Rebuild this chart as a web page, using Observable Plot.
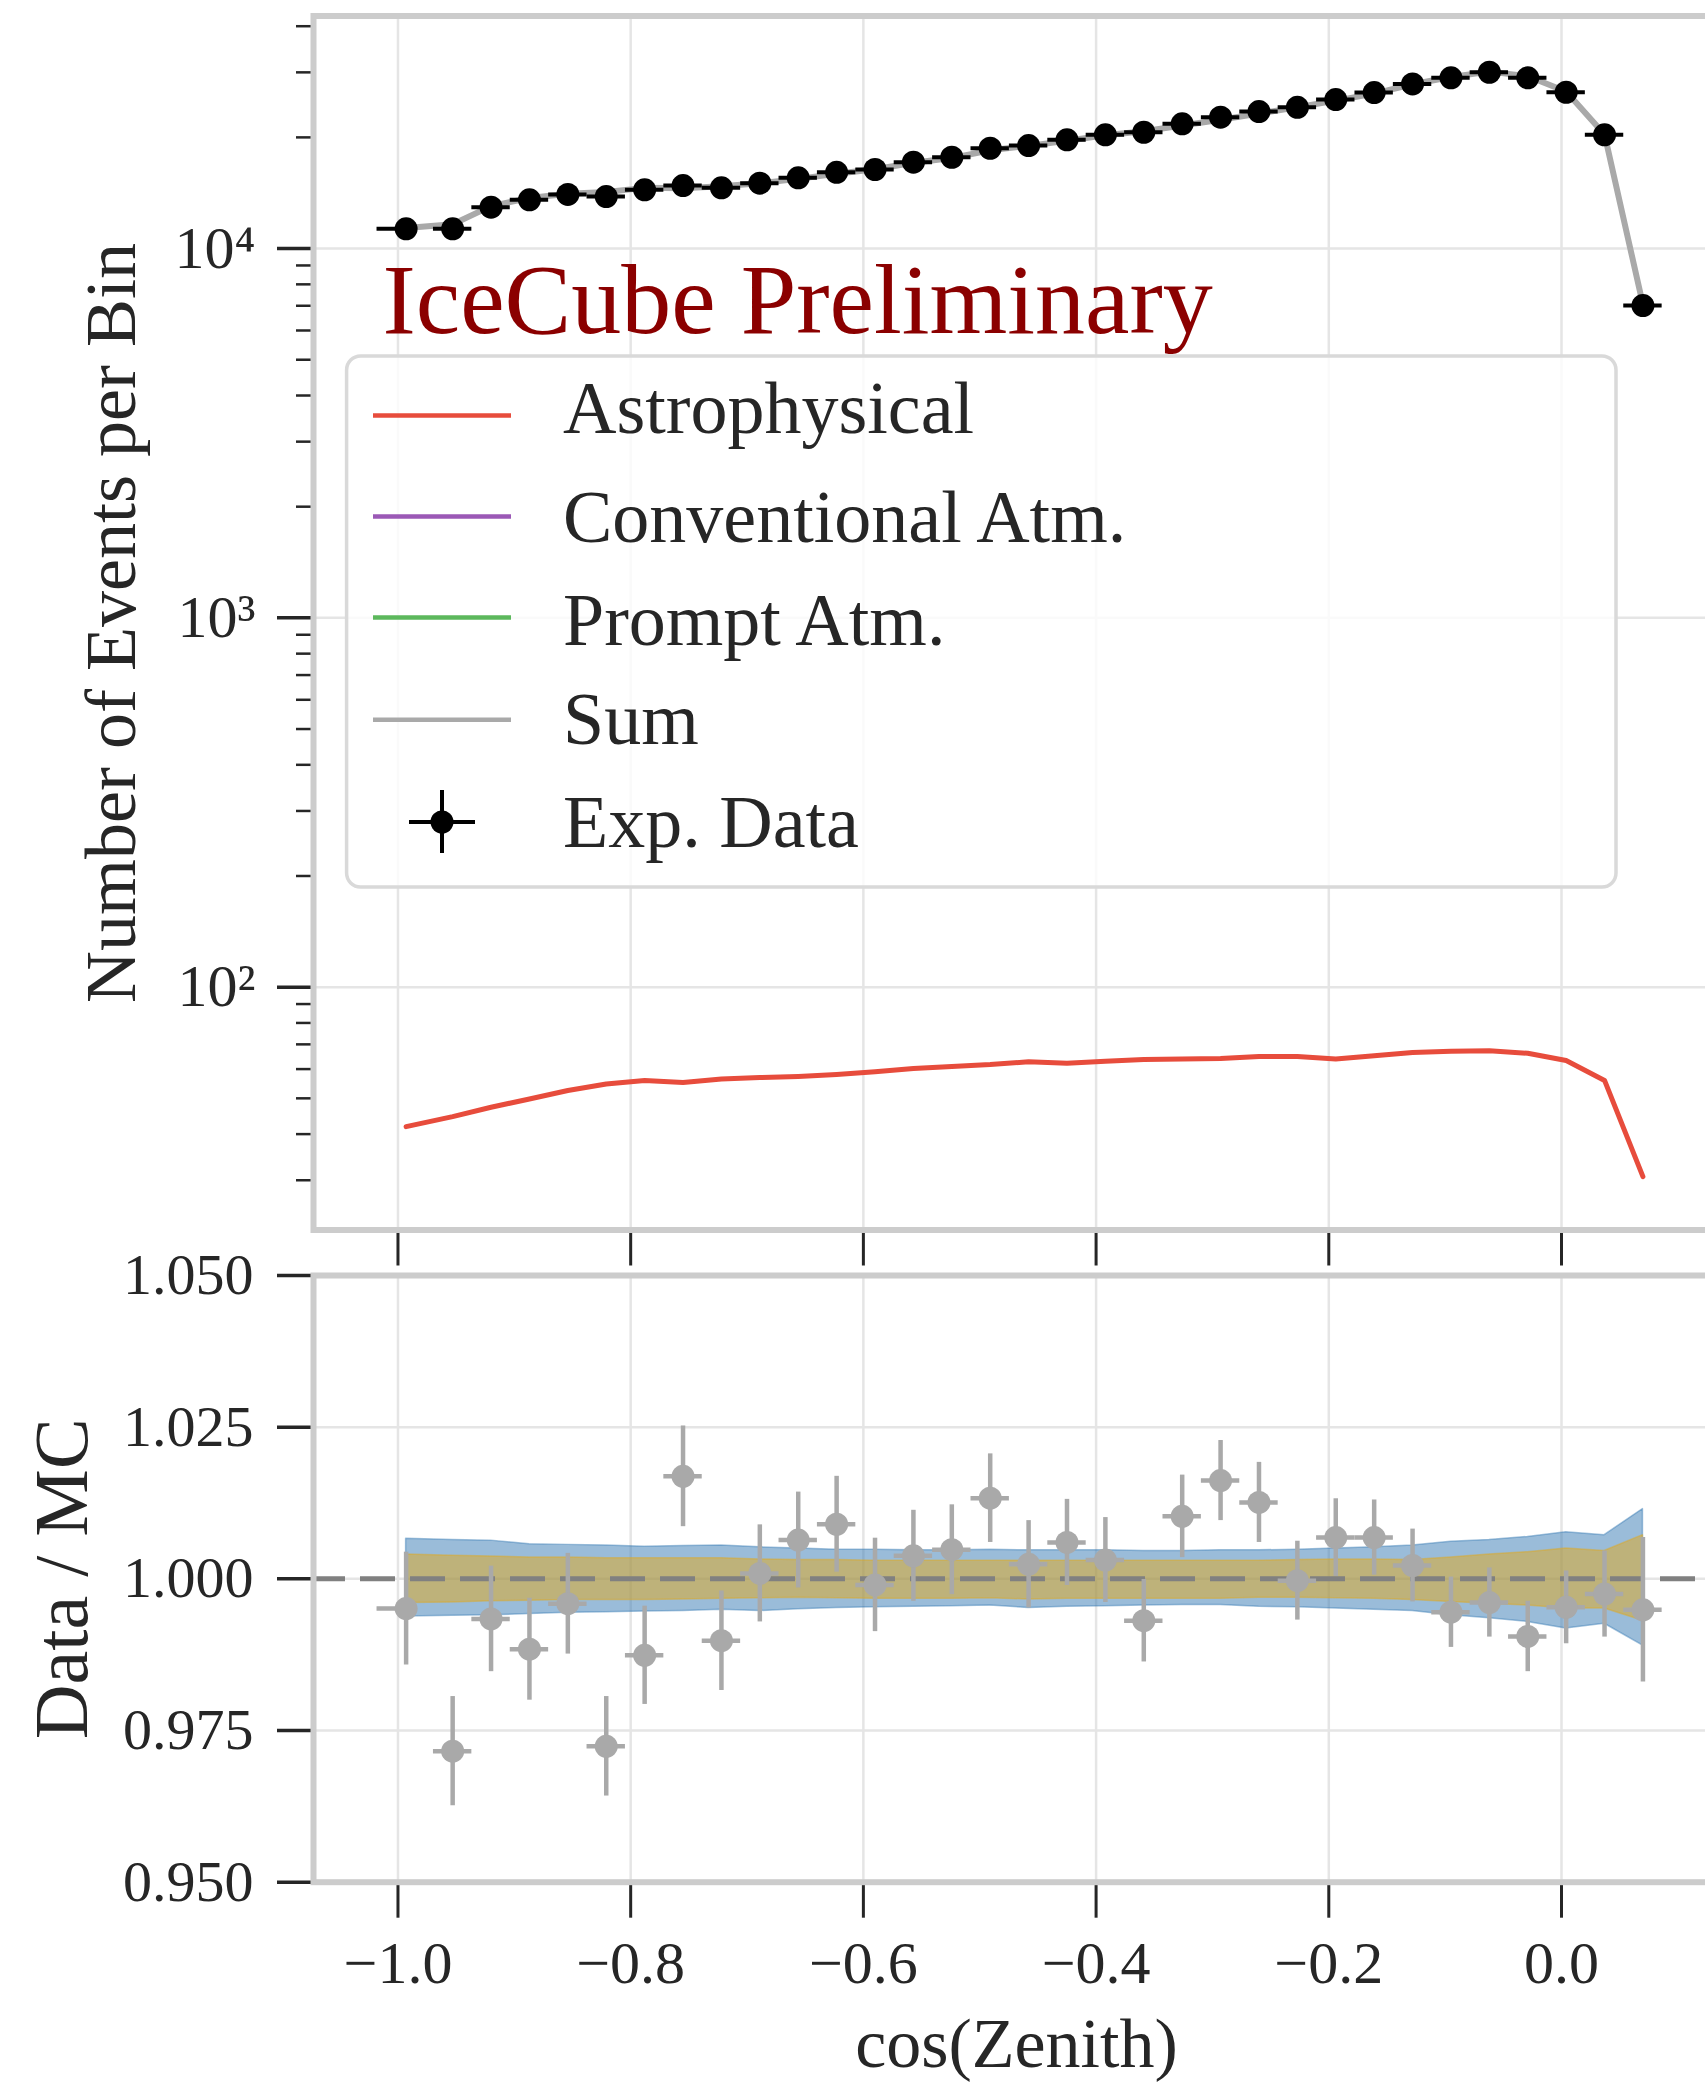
<!DOCTYPE html>
<html><head><meta charset="utf-8">
<script src="https://cdn.jsdelivr.net/npm/d3@7"></script>
<script src="https://cdn.jsdelivr.net/npm/@observablehq/plot@0.6"></script>
<style>
html,body{margin:0;padding:0;background:#fff;overflow:hidden;}
#wrap{position:relative;width:1705px;height:2082px;overflow:hidden;background:#fff;}
#top,#bottom,#legend{position:absolute;left:0;}
#top{top:0}#bottom{top:1235px}#legend{top:0;pointer-events:none;}
</style></head><body>
<div id="wrap"><div id="top"></div><div id="bottom"></div><svg id="legend" width="1705" height="1270"></svg></div>
<script>
// ---------- data ----------
const cosZenith = [-0.993, -0.953, -0.920, -0.887, -0.854, -0.821, -0.788, -0.755, -0.722, -0.689, -0.656,
  -0.623, -0.590, -0.557, -0.524, -0.491, -0.458, -0.425, -0.392, -0.359, -0.326, -0.293,
  -0.260, -0.227, -0.194, -0.161, -0.128, -0.095, -0.062, -0.029, 0.004, 0.037, 0.070];
const xErrLow = [0.025, 0.0165, 0.0165, 0.0165, 0.0165, 0.0165, 0.0165, 0.0165, 0.0165, 0.0165, 0.0165,
  0.0165, 0.0165, 0.0165, 0.0165, 0.0165, 0.0165, 0.0165, 0.0165, 0.0165, 0.0165, 0.0165,
  0.0165, 0.0165, 0.0165, 0.0165, 0.0165, 0.0165, 0.0165, 0.0165, 0.0165, 0.0165, 0.0165];
const xErrHigh = [0.008, 0.0165, 0.0165, 0.0165, 0.0165, 0.0165, 0.0165, 0.0165, 0.0165, 0.0165, 0.0165,
  0.0165, 0.0165, 0.0165, 0.0165, 0.0165, 0.0165, 0.0165, 0.0165, 0.0165, 0.0165, 0.0165,
  0.0165, 0.0165, 0.0165, 0.0165, 0.0165, 0.0165, 0.0165, 0.0165, 0.0165, 0.0165, 0.0165];
const expData = [11310, 11310, 12940, 13550, 14010, 13830, 14420, 14810, 14600, 15030, 15540,
  16090, 16370, 17130, 17670, 18690, 19010, 19700, 20320, 20650, 21760, 22680,
  23500, 24130, 25320, 26450, 27920, 28990, 30020, 28990, 26500, 20320, 7010];
const sumMC = [11370, 11640, 13030, 13710, 14070, 14220, 14600, 14560, 14750, 15020, 15440,
  15950, 16390, 17070, 17590, 18450, 18970, 19580, 20260, 20790, 21540, 22320,
  23210, 24140, 25150, 26270, 27860, 29140, 30140, 29270, 26630, 20370, 7050];
const astrophysical = [41.9, 44.6, 47.3, 49.8, 52.5, 54.7, 55.9, 55.2, 56.4, 56.9, 57.3,
  58.0, 59.0, 60.2, 61.0, 61.7, 62.8, 62.2, 63.0, 63.7, 63.9, 64.1,
  64.9, 64.9, 63.9, 65.2, 66.5, 67.1, 67.3, 66.2, 63.3, 55.9, 30.7];
const ratio = [0.9951, 0.9716, 0.9934, 0.9884, 0.9959, 0.9724, 0.9874, 1.0169, 0.9898, 1.0009, 1.0064,
  1.0090, 0.9990, 1.0038, 1.0048, 1.0133, 1.0024, 1.0060, 1.0031, 0.9931, 1.0103, 1.0162,
  1.0126, 0.9997, 1.0068, 1.0068, 1.0022, 0.9945, 0.9961, 0.9905, 0.9953, 0.9975, 0.9949];
const ratioErr = [0.0093, 0.0090, 0.0087, 0.0084, 0.0083, 0.0082, 0.0081, 0.0083, 0.0082, 0.0080, 0.0079,
  0.0079, 0.0077, 0.0075, 0.0074, 0.0073, 0.0072, 0.0071, 0.0070, 0.0068, 0.0068, 0.0066,
  0.0066, 0.0065, 0.0064, 0.0062, 0.0060, 0.0058, 0.0057, 0.0058, 0.0060, 0.0071, 0.0119];
const blueUpper = [1.0066, 1.0064, 1.0063, 1.0057, 1.0056, 1.0055, 1.0053, 1.0054, 1.0055, 1.0052, 1.0050,
  1.0048, 1.0048, 1.0047, 1.0047, 1.0048, 1.0047, 1.0047, 1.0047, 1.0046, 1.0046, 1.0047,
  1.0047, 1.0048, 1.0050, 1.0052, 1.0055, 1.0061, 1.0064, 1.0069, 1.0077, 1.0072, 1.0115];
const blueLower = [0.9938, 0.9939, 0.9940, 0.9942, 0.9944, 0.9945, 0.9946, 0.9947, 0.9949, 0.9947, 0.9950,
  0.9952, 0.9953, 0.9954, 0.9955, 0.9956, 0.9952, 0.9954, 0.9955, 0.9956, 0.9957, 0.9957,
  0.9954, 0.9953, 0.9951, 0.9949, 0.9947, 0.9940, 0.9935, 0.9929, 0.9918, 0.9926, 0.9890];
const yellowUpper = [1.0040, 1.0038, 1.0037, 1.0035, 1.0035, 1.0034, 1.0034, 1.0034, 1.0034, 1.0032, 1.0031,
  1.0031, 1.0030, 1.0030, 1.0030, 1.0030, 1.0030, 1.0030, 1.0030, 1.0030, 1.0030, 1.0030,
  1.0030, 1.0031, 1.0032, 1.0032, 1.0031, 1.0035, 1.0040, 1.0044, 1.0050, 1.0046, 1.0072];
const yellowLower = [0.9960, 0.9961, 0.9963, 0.9964, 0.9965, 0.9965, 0.9965, 0.9966, 0.9967, 0.9968, 0.9969,
  0.9968, 0.9967, 0.9967, 0.9967, 0.9968, 0.9966, 0.9967, 0.9967, 0.9967, 0.9967, 0.9967,
  0.9969, 0.9969, 0.9968, 0.9967, 0.9965, 0.9962, 0.9959, 0.9956, 0.9951, 0.9951, 0.9931];

const xTicks = [-1.0, -0.8, -0.6, -0.4, -0.2, 0.0];
const yMajorTop = [100, 1000, 10000];
const yMajorTopLabels = ["10²", "10³", "10⁴"];
const yMinorTop = [30, 40, 50, 60, 70, 80, 90, 200, 300, 400, 500, 600, 700, 800, 900,
  2000, 3000, 4000, 5000, 6000, 7000, 8000, 9000, 20000, 30000, 40000];
const yTicksRatio = [0.950, 0.975, 1.000, 1.025, 1.050];
const legendNames = ["Astrophysical", "Conventional Atm.", "Prompt Atm.", "Sum", "Exp. Data"];
const legendColors = ["#e74c3c", "#9b59b6", "#5cb85c", "#a9a9a9", "#000000"];

// ---------- build rows ----------
const rows = cosZenith.map((x, i) => ({
  x, xl: x - xErrLow[i], xh: x + xErrHigh[i],
  data: expData[i], sum: sumMC[i], astro: astrophysical[i],
  r: ratio[i], rlo: ratio[i] - ratioErr[i], rhi: ratio[i] + ratioErr[i],
  bu: blueUpper[i], bl: blueLower[i], yu: yellowUpper[i], yl: yellowLower[i]
}));

const FONT = "Liberation Serif";
const INK = "#262626";
const GRID = "#e5e5e5";
const SPINE = "#cccccc";
const xDomain = [-1.0726, 0.1358];
const fmtX = d => (d < 0 ? "\u2212" : "") + Math.abs(d).toFixed(1);

const topPlot = Plot.plot({
  width: 1705, height: 1270,
  marginLeft: 313, marginRight: -14, marginTop: 15.5, marginBottom: 40.5,
  style: {fontFamily: FONT, background: "transparent", color: INK},
  x: {domain: xDomain},
  y: {type: "log", domain: [22.0, 42630]},
  marks: [
    Plot.gridX({ticks: xTicks, stroke: GRID, strokeOpacity: 1, strokeWidth: 2.5}),
    Plot.gridY({ticks: yMajorTop, stroke: GRID, strokeOpacity: 1, strokeWidth: 2.5}),
    Plot.line(rows, {x: "x", y: "astro", stroke: legendColors[0], strokeWidth: 5}),
    Plot.line(rows, {x: "x", y: "sum", stroke: legendColors[3], strokeWidth: 6}),
    Plot.ruleY(rows, {y: "data", x1: "xl", x2: "xh", stroke: "#000", strokeWidth: 4}),
    Plot.dot(rows, {x: "x", y: "data", r: 11.5, fill: "#000", stroke: "none"}),
    Plot.axisX({ticks: xTicks, tickSize: 36, tickFormat: () => "", label: null, stroke: INK, strokeWidth: 3}),
    Plot.axisY({ticks: yMajorTop, tickSize: 36, tickPadding: 22, fontSize: 60,
      tickFormat: d => yMajorTopLabels[yMajorTop.indexOf(d)], label: null, stroke: INK, strokeWidth: 3.5}),
    Plot.axisY({ticks: yMinorTop, tickSize: 17, tickFormat: () => "", label: null, stroke: INK, strokeWidth: 2.5}),
    Plot.text(["Number of Events per Bin"], {text: d => d, frameAnchor: "left", dx: -201.5, rotate: -90,
      textAnchor: "middle", lineAnchor: "middle", fontSize: 72, fill: INK}),
    Plot.text(["IceCube Preliminary"], {text: d => d, frameAnchor: "top-left", dx: 69, dy: 285,
      textAnchor: "start", lineAnchor: "middle", fontSize: 100, fill: "#8b0000"}),
    Plot.frame({stroke: SPINE, strokeWidth: 6})
  ]
});
document.getElementById("top").appendChild(topPlot);

const bottomPlot = Plot.plot({
  width: 1705, height: 847,
  marginLeft: 313, marginRight: -14, marginTop: 40, marginBottom: 200.3,
  style: {fontFamily: FONT, background: "transparent", color: INK},
  x: {domain: xDomain},
  y: {domain: [0.95, 1.05]},
  marks: [
    Plot.gridX({ticks: xTicks, stroke: GRID, strokeOpacity: 1, strokeWidth: 2.5}),
    Plot.gridY({ticks: yTicksRatio, stroke: GRID, strokeOpacity: 1, strokeWidth: 2.5}),
    Plot.areaY(rows, {x: "x", y1: "bl", y2: "bu", fill: "#3579b3", fillOpacity: 0.5,
      stroke: "#3579b3", strokeOpacity: 0.45, strokeWidth: 1.5}),
    Plot.areaY(rows, {x: "x", y1: "yl", y2: "yu", fill: "#e2a81b", fillOpacity: 0.5,
      stroke: "#e2a81b", strokeOpacity: 0.45, strokeWidth: 1.5}),
    Plot.ruleY([1], {stroke: "#808080", strokeWidth: 5, strokeDasharray: "35,15", strokeDashoffset: 3}),
    Plot.ruleX(rows, {x: "x", y1: "rlo", y2: "rhi", stroke: "#a9a9a9", strokeWidth: 4.5}),
    Plot.ruleY(rows, {y: "r", x1: "xl", x2: "xh", stroke: "#a9a9a9", strokeWidth: 4.5}),
    Plot.dot(rows, {x: "x", y: "r", r: 11.5, fill: "#a9a9a9", stroke: "none"}),
    Plot.axisX({ticks: xTicks, tickSize: 36, tickPadding: 22, fontSize: 60, tickFormat: fmtX,
      label: null, stroke: INK, strokeWidth: 3}),
    Plot.axisY({ticks: yTicksRatio, tickSize: 36, tickPadding: 24, fontSize: 58,
      tickFormat: d => d.toFixed(3), label: null, stroke: INK, strokeWidth: 3.5}),
    Plot.text(["Data / MC"], {text: d => d, frameAnchor: "left", dx: -251, rotate: -90,
      textAnchor: "middle", lineAnchor: "middle", fontSize: 76, fill: INK}),
    Plot.text(["cos(Zenith)"], {text: d => d, frameAnchor: "bottom", dy: 162,
      textAnchor: "middle", lineAnchor: "middle", fontSize: 70, fill: INK}),
    Plot.frame({stroke: SPINE, strokeWidth: 6})
  ]
});
document.getElementById("bottom").appendChild(bottomPlot);

// ---------- legend (inside the top panel) ----------
const lg = d3.select("#legend");
lg.append("rect").attr("x", 346.6).attr("y", 356).attr("width", 1269.4).attr("height", 531)
  .attr("rx", 14).attr("fill", "#fff").attr("fill-opacity", 0.8)
  .attr("stroke", "#d9d9d9").attr("stroke-width", 3.5);
const rowY = [415.6, 516.6, 617.5, 719.7, 822];
const textBase = [433, 542, 645, 744, 847];
legendNames.forEach((name, i) => {
  if (i < 4) {
    lg.append("line").attr("x1", 373).attr("x2", 511).attr("y1", rowY[i]).attr("y2", rowY[i])
      .attr("stroke", legendColors[i]).attr("stroke-width", 4.5);
  } else {
    lg.append("line").attr("x1", 442).attr("x2", 442).attr("y1", 790).attr("y2", 853)
      .attr("stroke", legendColors[i]).attr("stroke-width", 4);
    lg.append("line").attr("x1", 409).attr("x2", 475).attr("y1", rowY[i]).attr("y2", rowY[i])
      .attr("stroke", legendColors[i]).attr("stroke-width", 4);
    lg.append("circle").attr("cx", 442).attr("cy", rowY[i]).attr("r", 11.5).attr("fill", legendColors[i]);
  }
  lg.append("text").attr("x", 563).attr("y", textBase[i]).attr("font-family", FONT)
    .attr("font-size", 74).attr("fill", INK).text(name);
});
</script>
</body></html>
